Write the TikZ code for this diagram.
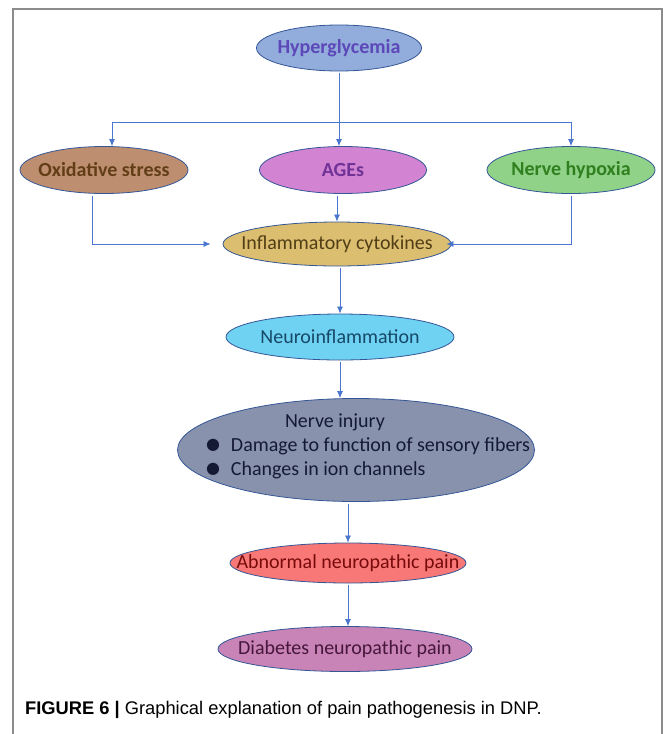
\documentclass[tikz,border=0pt]{standalone}
\usepackage{fontspec}
\setmainfont{Carlito}
\newfontfamily\capfont{Liberation Sans}
\newfontfamily\dotfont{DejaVu Sans}
\usetikzlibrary{positioning,arrows.meta,shapes.geometric,calc}
\definecolor{edgeblue}{RGB}{52,86,150}
\definecolor{linkblue}{RGB}{74,118,206}
\definecolor{framegray}{RGB}{140,140,140}
\definecolor{hyperfill}{RGB}{146,172,220}
\definecolor{hypertext}{RGB}{92,72,184}
\definecolor{oxidfill}{RGB}{190,142,112}
\definecolor{oxidtext}{RGB}{98,62,22}
\definecolor{agesfill}{RGB}{210,132,210}
\definecolor{agestext}{RGB}{112,50,150}
\definecolor{hypoxfill}{RGB}{144,210,136}
\definecolor{hypoxtext}{RGB}{48,128,32}
\definecolor{cytofill}{RGB}{220,190,112}
\definecolor{cytotext}{RGB}{82,62,22}
\definecolor{neurofill}{RGB}{112,210,242}
\definecolor{neurotext}{RGB}{22,72,104}
\definecolor{injuryfill}{RGB}{136,146,172}
\definecolor{injurytext}{RGB}{20,26,52}
\definecolor{abnfill}{RGB}{248,120,120}
\definecolor{abntext}{RGB}{120,10,10}
\definecolor{dnpfill}{RGB}{200,132,182}
\definecolor{dnptext}{RGB}{70,22,60}
% text that does not widen its ellipse
\newcommand{\slimbox}[1]{\makebox[0pt]{#1}}
\newcommand{\bigdot}{\raisebox{2.5pt}{\dotfont\fontsize{16}{16}\selectfont ●}}

\begin{document}
\begin{tikzpicture}[x=1pt, y=-1pt,
    >={Latex[length=7pt,width=6pt]},
    oval/.style={ellipse, draw=edgeblue, line width=0.8pt, inner sep=0pt, font=\fontsize{20}{24}\selectfont},
    boldoval/.style={oval, font=\bfseries\fontsize{20}{24}\selectfont},
    link/.style={->, draw=linkblue, line width=0.7pt, shorten <=2pt}]
    \useasboundingbox (0,0) rectangle (663,734);
    \draw[framegray, line width=1.5pt] (13,734) -- (13,9) -- (662,9) -- (662,734);

    % top row
    \node[boldoval, fill=hyperfill, text=hypertext, minimum width=165pt, minimum height=46pt] (hyper) at (339,48) {\slimbox{Hyperglycemia}};
    \node[boldoval, fill=oxidfill, text=oxidtext, minimum width=168pt, minimum height=47pt] (oxid) at (104,170) {\slimbox{Oxidative stress}};
    \node[boldoval, fill=agesfill, text=agestext, minimum width=167pt, minimum height=47pt] (ages) at (343,170) {\slimbox{AGEs}};
    \node[boldoval, fill=hypoxfill, text=hypoxtext, minimum width=168pt, minimum height=47pt] (hypox) at (571,170) {\slimbox{Nerve hypoxia}};

    % main chain
    \node[oval, fill=cytofill, text=cytotext, minimum width=228pt, minimum height=44pt] (cyto) at (337,244) {\slimbox{Inflammatory cytokines}};
    \node[oval, fill=neurofill, text=neurotext, minimum width=228pt, minimum height=46pt] (neuro) at (340,337) {\slimbox{Neuroinflammation}};
    \node[oval, fill=injuryfill, text=injurytext, minimum width=357pt, minimum height=103pt] (injury) at (356,450)
        {\slimbox{\hspace*{24pt}\raisebox{-2pt}[0pt][0pt]{\begin{tabular}{@{}l@{}}
            \multicolumn{1}{@{}l@{}}{\hspace*{79pt}Nerve injury}\\
            \bigdot\hspace{11pt}Damage to function of sensory fibers\\
            \bigdot\hspace{11pt}Changes in ion channels
        \end{tabular}}}};
    \node[oval, fill=abnfill, text=abntext, minimum width=236pt, minimum height=40pt] (abn) at (348,563) {\slimbox{Abnormal neuropathic pain}};
    \node[oval, fill=dnpfill, text=dnptext, minimum width=254pt, minimum height=45pt] (dnp) at (345,649) {\slimbox{Diabetes neuropathic pain}};

    \node[anchor=base west, inner sep=0pt, font=\capfont\fontsize{18.3}{21}\selectfont] (caption) at (25,714)
        {\textbf{FIGURE 6 |} Graphical explanation of pain pathogenesis in DNP.};

    % fan out from hyperglycemia
    \coordinate (fork) at (339,122);
    \draw[link] (hyper.south) -- (hyper.south |- ages.north);
    \draw[link, shorten <=0pt] (fork) -| ([xshift=8pt]oxid.north);
    \draw[link, shorten <=0pt] (fork) -| (hypox.north);

    % into the cytokines
    \draw[link, shorten >=12pt] ([xshift=-12pt]oxid.south) |- (cyto.west);
    \draw[link] (cyto.north |- ages.south) -- (cyto.north);
    \draw[link, shorten >=-5pt] (hypox.south) |- (cyto.east);

    % down the chain
    \draw[link] (neuro.north |- cyto.south) -- (neuro.north);
    \draw[link] (neuro.south) -- (neuro.south |- injury.north);
    \draw[link] (abn.north |- injury.south) -- (abn.north);
    \draw[link] (abn.south) -- (abn.south |- dnp.north);
\end{tikzpicture}
\end{document}
